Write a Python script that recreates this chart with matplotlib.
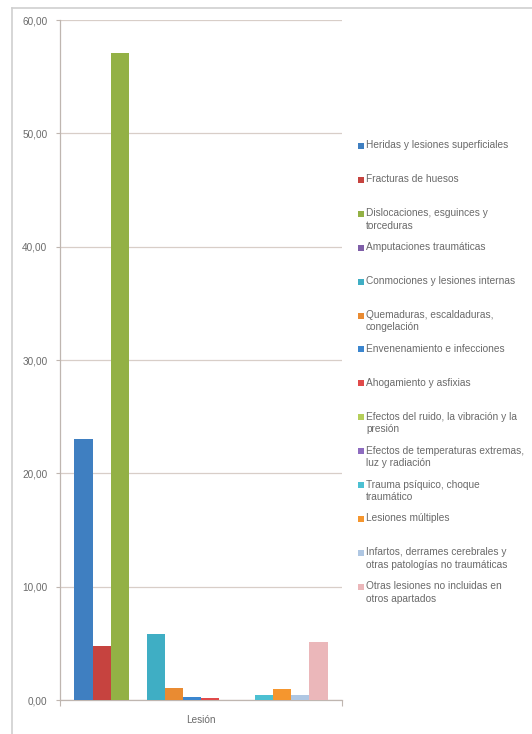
import matplotlib
matplotlib.use("Agg")
import matplotlib.pyplot as plt
from matplotlib.patches import Rectangle
from matplotlib.lines import Line2D
from matplotlib.ticker import FuncFormatter

# -----------------------------
# Data
# -----------------------------
category = "Lesión"

series_labels = [
    "Heridas y lesiones superficiales",
    "Fracturas de huesos",
    "Dislocaciones, esguinces y\ntorceduras",
    "Amputaciones traumáticas",
    "Conmociones y lesiones internas",
    "Quemaduras, escaldaduras,\ncongelación",
    "Envenenamiento e infecciones",
    "Ahogamiento y asfixias",
    "Efectos del ruido, la vibración y la\npresión",
    "Efectos de temperaturas extremas,\nluz y radiación",
    "Trauma psíquico, choque\ntraumático",
    "Lesiones múltiples",
    "Infartos, derrames cerebrales y\notras patologías no traumáticas",
    "Otras lesiones no incluidas en\notros apartados",
]

series_values = [23.0, 4.8, 57.1, 0.0, 5.8, 1.1, 0.25, 0.15,
                 0.0, 0.0, 0.45, 1.0, 0.45, 5.1]

series_colors = ["#3F7FC1", "#C6433F", "#93B145", "#7F5FA8", "#3FAEC4",
                 "#E98B32", "#3B86CF", "#E04A4A", "#B5CF5A", "#8E6CC0",
                 "#4CC0D2", "#F5962E", "#AFC7E3", "#EBB7BA"]

y_ticks = [0, 10, 20, 30, 40, 50, 60]

# -----------------------------
# Plot
# -----------------------------
W, H = 532, 734
fig = plt.figure(figsize=(W / 100, H / 100), dpi=100)
plt.rcParams["font.family"] = ["Liberation Sans", "DejaVu Sans"]

text_grey = "#6a6a6a"
grid_col = "#d8cec8"
axis_col = "#bfb6b0"
frame_col = "#cfcfcf"

# outer frame of the chart object (only top and left edges show)
fig.lines.append(Line2D([12 / W, 1.0], [1 - 8 / H, 1 - 8 / H], transform=fig.transFigure,
                        color=frame_col, linewidth=1.2))
fig.lines.append(Line2D([12 / W, 12 / W], [0.0, 1 - 8 / H], transform=fig.transFigure,
                        color=frame_col, linewidth=1.2))

ax = fig.add_axes([60 / W, 34 / H, 282 / W, 680 / H])

n = len(series_values)
xs = list(range(n))
ax.bar(xs, series_values, width=1.0, color=series_colors, align="center", zorder=3)

ax.set_xlim(-1.3, n - 1 + 1.3)
ax.set_ylim(0, 60)
ax.set_yticks(y_ticks)
ax.yaxis.set_major_formatter(FuncFormatter(lambda v, p: f"{v:.2f}".replace(".", ",")))
ax.set_xticks(ax.get_xlim())
ax.set_xticklabels([])

ax.grid(axis="y", color=grid_col, linewidth=0.9, zorder=0)
for s in ["top", "right"]:
    ax.spines[s].set_visible(False)
for s in ["left", "bottom"]:
    ax.spines[s].set_color(axis_col)
    ax.spines[s].set_linewidth(0.9)

ax.tick_params(axis="y", length=3, color=axis_col, pad=6, labelsize=7.2, labelcolor=text_grey)
ax.tick_params(axis="x", length=4, color=axis_col)
ax.set_xlabel(category, fontsize=7.2, color=text_grey, labelpad=3)

# legend, drawn entry by entry so the pitch stays even like in Excel
y0 = 146
pitch = 33.9
for i, (lab, col) in enumerate(zip(series_labels, series_colors)):
    yc = y0 + i * pitch
    fig.patches.append(Rectangle((358 / W, 1 - (yc + 3) / H), 6 / W, 6 / H,
                                 transform=fig.transFigure, facecolor=col,
                                 edgecolor="none"))
    fig.text(366 / W, 1 - (yc - 5.5) / H, lab, fontsize=7.3, color=text_grey,
             ha="left", va="top", linespacing=1.3)

fig.savefig("out.png", dpi=100)
